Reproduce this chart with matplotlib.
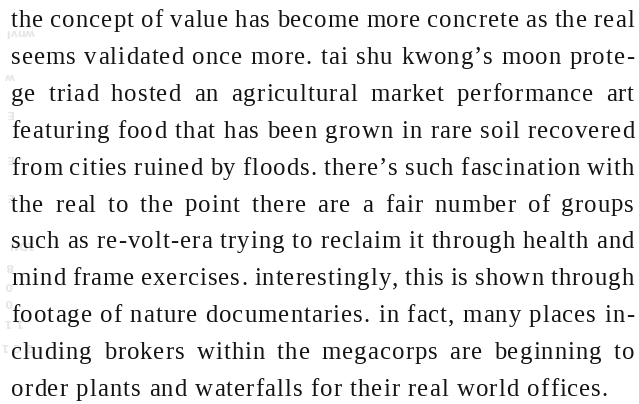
import matplotlib
matplotlib.use("Agg")
import matplotlib.pyplot as plt
from matplotlib.font_manager import FontProperties, findfont
from matplotlib.ft2font import FT2Font

# paragraph, already broken into lines as in the page
lines = [
    "the concept of value has become more concrete as the real",
    "seems validated once more. tai shu kwong\u2019s moon prote-",
    "ge triad hosted an agricultural market performance art",
    "featuring food that has been grown in rare soil recovered",
    "from cities ruined by floods. there\u2019s such fascination with",
    "the real to the point there are a fair number of groups",
    "such as re-volt-era trying to reclaim it through health and",
    "mind frame exercises. interestingly, this is shown through",
    "footage of nature documentaries. in fact, many places in-",
    "cluding brokers within the megacorps are beginning to",
    "order plants and waterfalls for their real world offices.",
]

# faint show-through from the back of the page (upside down)
ghost_text = ["wnvl", "w", "E", "E", "E", "1DN", "8", "0", "0", "1 1", "2 C 1"]
ghost_y = [32, 76, 113, 158, 196, 244, 266, 285, 302, 322, 346]
ghost_x = [20, 9, 9, 9, 9, 20, 9, 9, 9, 14, 17]

W, H = 639, 404
left, right = 11, 634
first_base, line_gap = 27, 36.9
last_width = 597
fsize = 17.8

fig = plt.figure(figsize=(W / 100, H / 100), dpi=100)
ax = fig.add_axes([0, 0, 1, 1])
ax.set_xlim(0, W)
ax.set_ylim(H, 0)
ax.axis("off")

for s, x, y in zip(ghost_text, ghost_x, ghost_y):
    ax.text(x, y, s, fontsize=8, color="#e6e6e6", family="DejaVu Sans",
            fontweight="bold", rotation=180, ha="center", va="center", zorder=0)

font = FontProperties(family="Liberation Serif", size=fsize)
ft = FT2Font(findfont(font))
ft.set_size(fsize, 100)
adv_cache = {}


def adv(c):
    # glyph advance in pixels
    if c not in adv_cache:
        adv_cache[c] = ft.load_char(ord(c)).linearHoriAdvance / 65536
    return adv_cache[c]


def word_w(word, track):
    return sum(adv(c) for c in word) + track * (len(word) - 1)


# letter spacing chosen so the unjustified last line has its width in the page
last_words = lines[-1].split()
space = adv(" ")
natural = sum(word_w(w, 0) for w in last_words) + space * (len(last_words) - 1)
track = (last_width - natural) / (len(lines[-1]) - 1)

for i, line in enumerate(lines):
    words = line.split()
    widths = [word_w(w, track) for w in words]
    if i < len(lines) - 1:
        gap = (right - left - sum(widths)) / (len(words) - 1)
    else:
        gap = space + 2 * track
    y = first_base + i * line_gap
    x = left
    for word, ww in zip(words, widths):
        pen = x
        for c in word:
            ax.text(pen, y, c, fontproperties=font, color="#141414",
                    ha="left", va="baseline")
            pen += adv(c) + track
        x += ww + gap

fig.savefig("out.png", dpi=100, facecolor="white")
